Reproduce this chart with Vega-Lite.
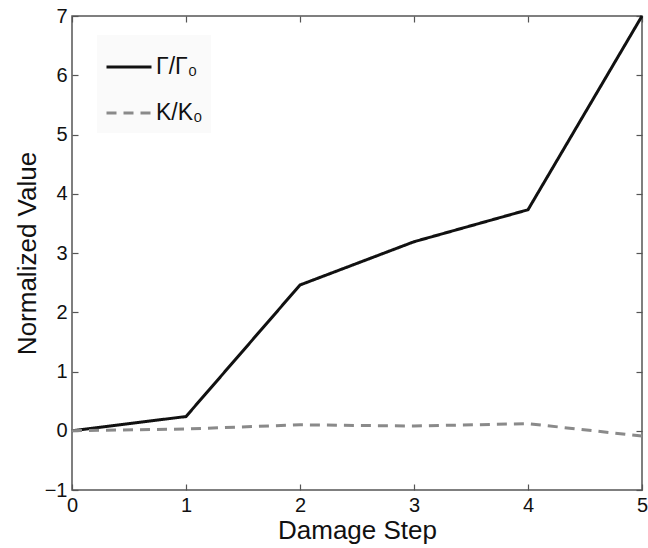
{
  "$schema": "https://vega.github.io/schema/vega-lite/v6.json",
  "width": 570,
  "height": 474,
  "autosize": {"type": "none"},
  "padding": {"left": 72, "top": 16, "right": 6, "bottom": 58},
  "background": "white",
  "config": {
    "font": "Liberation Sans",
    "view": {"stroke": "#555", "strokeWidth": 1.5},
    "axis": {
      "domain": false,
      "grid": false,
      "tickColor": "#555",
      "tickWidth": 1.2,
      "tickSize": -6,
      "labelFont": "Liberation Sans",
      "labelFontSize": 20,
      "labelColor": "#111",
      "titleFont": "Liberation Sans",
      "titleFontSize": 26,
      "titleFontWeight": "normal",
      "titleColor": "#111"
    }
  },
  "data": {
    "values": [
      {"step": 0, "series": "Γ/Γ₀", "value": 0.0},
      {"step": 1, "series": "Γ/Γ₀", "value": 0.24},
      {"step": 2, "series": "Γ/Γ₀", "value": 2.46},
      {"step": 3, "series": "Γ/Γ₀", "value": 3.19},
      {"step": 4, "series": "Γ/Γ₀", "value": 3.73},
      {"step": 5, "series": "Γ/Γ₀", "value": 7.0},
      {"step": 0, "series": "K/K₀", "value": 0.0},
      {"step": 1, "series": "K/K₀", "value": 0.03},
      {"step": 2, "series": "K/K₀", "value": 0.1},
      {"step": 3, "series": "K/K₀", "value": 0.08},
      {"step": 4, "series": "K/K₀", "value": 0.12},
      {"step": 5, "series": "K/K₀", "value": -0.09}
    ]
  },
  "resolve": {"axis": {"x": "independent", "y": "independent"}},
  "layer": [
    {
      "mark": {"type": "line", "strokeWidth": 3, "strokeCap": "butt"},
      "encoding": {
        "x": {
          "field": "step",
          "type": "quantitative",
          "scale": {"domain": [0, 5], "nice": false, "zero": false},
          "axis": {"orient": "bottom", "values": [0, 1, 2, 3, 4, 5], "labelPadding": 11, "title": "Damage Step", "titlePadding": 2, "labelFlush": false}
        },
        "y": {
          "field": "value",
          "type": "quantitative",
          "scale": {"domain": [-1, 7], "nice": false, "zero": false},
          "axis": {"orient": "left", "values": [-1, 0, 1, 2, 3, 4, 5, 6, 7], "labelPadding": 11, "title": "Normalized Value", "titlePadding": 4, "labelFlush": false}
        },
        "color": {
          "field": "series",
          "type": "nominal",
          "scale": {"domain": ["Γ/Γ₀", "K/K₀"], "range": ["#111111", "#8a8a8a"]},
          "legend": {
            "orient": "none",
            "legendX": 25,
            "legendY": 19,
            "title": null,
            "symbolType": "stroke",
            "symbolSize": 2025,
            "symbolStrokeWidth": 3,
            "labelFontSize": 23,
            "labelFont": "Liberation Sans",
            "labelColor": "#111",
            "labelOffset": 3,
            "rowPadding": 10,
            "padding": 8,
            "fillColor": "#fafafa"
          }
        },
        "strokeDash": {
          "field": "series",
          "type": "nominal",
          "scale": {"domain": ["Γ/Γ₀", "K/K₀"], "range": [[1, 0], [10, 7]]},
          "legend": null
        }
      }
    },
    {
      "mark": {"type": "line", "opacity": 0},
      "encoding": {
        "x": {
          "field": "step",
          "type": "quantitative",
          "axis": {"orient": "top", "values": [0, 1, 2, 3, 4, 5], "labels": false, "title": null}
        },
        "y": {
          "field": "value",
          "type": "quantitative",
          "axis": {"orient": "right", "values": [-1, 0, 1, 2, 3, 4, 5, 6, 7], "labels": false, "title": null}
        },
        "detail": {"field": "series", "type": "nominal"}
      }
    }
  ]
}
